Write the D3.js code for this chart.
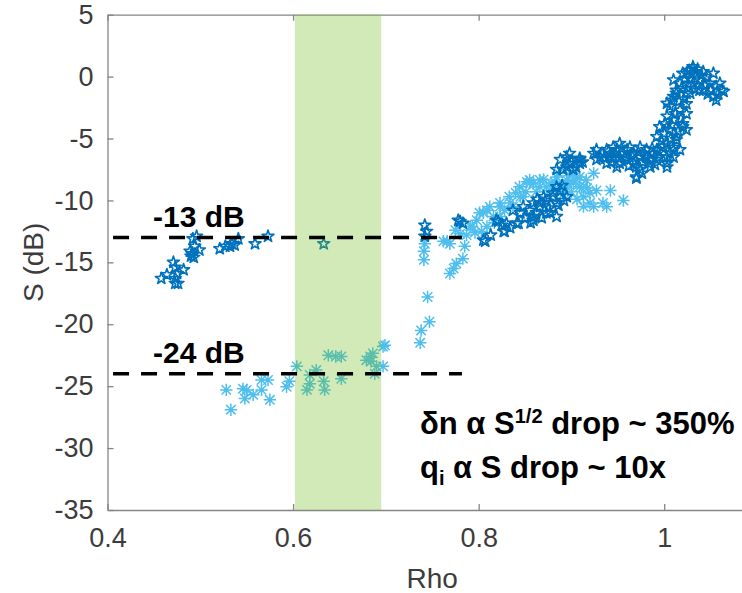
<!DOCTYPE html>
<html>
<head>
<meta charset="utf-8">
<script src="https://cdn.jsdelivr.net/npm/d3@7"></script>
<style>
  html, body { margin: 0; padding: 0; background: #fff; }
  svg { display: block; font-family: "Liberation Sans", Arial, sans-serif; }
</style>
</head>
<body>
<svg id="chart" width="742" height="593"></svg>
<script>
// Axis settings
const xDomain = [0.4, 1.1];
const yDomain = [-35, 5];
const xTicks = [0.4, 0.6, 0.8, 1];
const xTickLabels = ["0.4", "0.6", "0.8", "1"];
const yTicks = [5, 0, -5, -10, -15, -20, -25, -30, -35];
const yTickLabels = ["5", "0", "-5", "-10", "-15", "-20", "-25", "-30", "-35"];

// Highlighted Rho window
const bandRho = [0.602, 0.695];

// Threshold levels (dB) and their labels
const levels = [-13, -24];
const levelLabels = ["-13 dB", "-24 dB"];
const levelRho = [0.406, 0.782];

// S (dB) vs Rho, dark-blue pentagrams: [rho, S]
const starPoints = [
  [0.458,-16.3],[0.464,-16.0],[0.471,-15.0],[0.473,-15.4],[0.473,-16.3],[0.475,-15.9],
  [0.476,-16.7],[0.473,-16.7],[0.482,-15.6],[0.489,-14.1],[0.491,-14.3],[0.493,-14.6],
  [0.494,-13.7],[0.492,-13.1],[0.496,-12.9],[0.499,-14.0],[0.490,-14.5],[0.521,-13.9],
  [0.527,-13.7],[0.532,-13.7],[0.534,-13.5],[0.537,-13.6],[0.541,-13.1],[0.559,-13.5],
  [0.573,-12.9],[0.633,-13.5],
  [0.742,-12.0],[0.744,-12.5],[0.742,-12.9],
  [0.778,-11.6],[0.783,-11.85],[0.780,-11.7],[0.807,-13.3],[0.805,-13.2],[0.821,-11.7],
  [0.828,-12.5],[0.827,-12.5],[0.819,-11.6],[0.837,-10.8],[0.843,-11.85],[0.830,-11.85],
  [0.841,-11.85],[0.845,-11.0],[0.859,-11.6],[0.859,-11.3],[0.855,-10.8],[0.866,-10.2],
  [0.866,-10.5],[0.870,-9.7],[0.873,-11.0],[0.877,-11.0],[0.880,-9.7],[0.880,-9.4],
  [0.884,-8.9],[0.888,-9.2],[0.895,-9.7],[0.884,-10.2],[0.884,-11.3],[0.886,-10.4],
  [0.859,-10.2],[0.850,-11.4],
  [0.848,-10.5],[0.856,-11.8],[0.862,-11.0],[0.868,-11.4],[0.872,-10.0],[0.876,-10.6],
  [0.863,-9.9],[0.834,-12.2],[0.825,-12.0],[0.813,-12.8],[0.892,-10.0],[0.890,-8.8],
  [0.888,-6.7],[0.895,-6.5],[0.909,-6.7],[0.902,-7.5],[0.891,-7.5],[0.895,-7.3],
  [0.884,-7.5],[0.909,-7.0],[0.909,-6.6],[0.900,-6.9],[0.897,-7.0],[0.905,-7.3],
  [0.898,-6.2],[0.912,-6.9],
  [0.924,-6.2],[0.927,-5.9],[0.931,-6.5],[0.927,-6.7],[0.938,-5.9],[0.938,-7.0],
  [0.942,-6.5],[0.945,-5.7],[0.945,-6.5],[0.949,-5.9],[0.949,-7.3],[0.952,-5.4],
  [0.952,-7.0],[0.956,-6.2],[0.960,-5.9],[0.960,-6.7],[0.963,-5.7],[0.967,-7.0],
  [0.967,-6.2],[0.970,-8.1],[0.970,-8.2],[0.970,-7.3],[0.974,-5.7],[0.974,-6.5],
  [0.974,-7.5],[0.977,-6.9],[0.981,-5.9],[0.981,-6.5],[0.985,-7.3],[0.985,-6.7],
  [0.988,-6.2],[0.992,-5.9],[0.992,-6.7],[0.992,-4.85],[0.995,-6.5],[0.995,-4.05],
  [0.999,-5.6],[1.003,-5.4],[1.003,-6.5],[1.003,-7.0],[1.003,-7.3],[1.003,-3.2],
  [0.933,-6.2],[0.936,-6.6],[0.940,-6.0],[0.943,-6.9],[0.947,-6.2],[0.951,-6.6],
  [0.954,-5.8],[0.958,-6.5],[0.962,-7.2],[0.965,-6.4],[0.969,-6.8],[0.972,-6.1],
  [0.976,-7.8],[0.979,-6.3],[0.983,-7.0],[0.987,-5.8],[0.990,-7.1],[0.994,-6.1],
  [0.997,-5.2],[1.000,-4.6],[1.007,-5.0],[1.015,-4.4],[1.018,-3.4],[1.008,-3.9],
  [1.001,-3.8],[1.012,-3.0],[1.016,-2.0],[1.008,-1.9],[1.021,-1.8],[1.019,-0.9],
  [1.006,-4.3],[1.006,-6.2],[1.010,-5.9],[1.010,-6.5],[1.010,-5.7],[1.010,-3.5],
  [1.013,-4.85],[1.013,-5.1],[1.017,-5.9],[1.017,-2.7],[1.020,-3.8],[1.020,-4.05],
  [1.024,-4.3],[1.024,-3.0],[1.024,-2.2],[1.006,-2.4],[1.003,-2.16],[1.010,-1.6],
  [1.013,-1.35],[1.013,-1.1],[1.017,-0.54],[1.010,-0.27],[1.020,0.27],[1.024,-1.35],
  [1.024,0.27],[1.031,0.67],[1.031,0.8],[1.031,-0.54],[1.038,-0.27],[1.038,-1.1],
  [1.042,0.4],[1.042,-1.1],[1.045,0.0],[1.049,-0.54],[1.053,0.27],[1.053,-1.6],
  [1.056,-1.9],[1.056,-0.8],[1.060,-0.54],[1.062,-1.1],[1.064,-1.2],[1.028,-1.35],
  [1.035,0.3],[1.028,-0.2],[1.047,-1.4],[1.026,-0.6],[1.033,-1.0],[1.040,0.1],
  [1.044,-0.7],[1.050,-1.1],[1.058,-1.4],[1.036,0.6],[1.027,0.5],[1.022,-0.2]
];

// S (dB) vs Rho, light-blue asterisks: [rho, S]
const asteriskPoints = [
  [0.528,-25.3],[0.533,-26.9],[0.546,-25.2],[0.550,-25.3],[0.548,-26.0],[0.557,-25.7],
  [0.566,-24.5],[0.573,-24.5],[0.566,-25.3],[0.575,-26.1],[0.593,-25.05],[0.596,-24.6],
  [0.604,-23.4],
  [0.618,-24.1],[0.618,-24.8],[0.615,-25.3],[0.625,-23.7],[0.633,-24.6],[0.634,-25.3],
  [0.638,-22.5],[0.652,-22.6],[0.652,-24.4],[0.679,-22.9],[0.683,-22.6],[0.686,-22.35],
  [0.688,-24.0],[0.690,-23.4],[0.646,-22.6],[0.684,-23.0],
  [0.699,-21.7],[0.697,-21.8],[0.697,-23.4],
  [0.742,-13.5],[0.741,-14.1],[0.741,-14.8],[0.745,-17.8],[0.747,-19.8],[0.738,-20.5],
  [0.737,-21.5],
  [0.762,-13.3],[0.769,-13.5],[0.785,-13.7],[0.783,-14.7],[0.776,-15.1],[0.773,-15.5],
  [0.769,-15.9],[0.775,-12.4],[0.787,-12.8],[0.793,-12.1],[0.801,-11.0],[0.809,-10.8],
  [0.816,-11.3],[0.823,-10.5],[0.834,-10.2],[0.845,-9.7],[0.855,-8.6],[0.866,-8.9],
  [0.780,-12.7],[0.766,-13.3],[0.791,-12.1],[0.798,-11.6],[0.805,-11.0],[0.812,-10.5],
  [0.809,-12.1],[0.823,-11.3],[0.837,-10.5],[0.848,-9.7],[0.823,-10.2],[0.833,-9.7],
  [0.844,-8.9],[0.855,-8.35],[0.866,-8.35],[0.873,-8.9],[0.852,-8.5],[0.859,-8.6],
  [0.884,-8.1],[0.895,-8.35],[0.902,-8.6],[0.902,-7.8],[0.909,-8.1],[0.909,-8.9],
  [0.913,-9.7],[0.916,-8.35],[0.920,-9.4],[0.920,-10.2],[0.924,-7.8],[0.924,-10.5],
  [0.927,-9.2],[0.913,-10.5],[0.934,-10.2],[0.938,-10.5],[0.942,-9.2],[0.956,-10.0],
  [0.893,-9.0],[0.898,-8.0],[0.878,-8.6],
  [0.870,-8.3],[0.877,-9.2],[0.882,-8.5],[0.887,-8.9],[0.891,-9.5],[0.896,-8.7],
  [0.900,-9.3],[0.905,-8.3],[0.906,-9.9],[0.911,-9.0],[0.917,-9.0],[0.886,-7.8],
  [0.862,-9.3],[0.851,-9.3],[0.840,-9.4],[0.828,-10.8],[0.817,-11.8],[0.803,-12.5],
  [0.796,-12.6]
];

const colors = { star: "#0072BD", asterisk: "#4DBEEE", band: "rgb(119,192,40)", axis: "#858585", tickText: "#3c3c3c" };

const svg = d3.select("#chart");
const x = d3.scaleLinear().domain(xDomain).range([107.5, 757]);
const y = d3.scaleLinear().domain(yDomain).range([510, 14.7]);

// Axes box with inward ticks
const axisFont = 27;
const gLeft = svg.append("g").attr("transform", `translate(${x(xDomain[0])},0)`)
  .call(d3.axisLeft(y).tickValues(yTicks).tickSizeInner(-6).tickSizeOuter(0).tickPadding(14)
    .tickFormat((d, i) => yTickLabels[i]));
const gBottom = svg.append("g").attr("transform", `translate(0,${y(yDomain[0])})`)
  .call(d3.axisBottom(x).tickValues(xTicks).tickSizeInner(-6).tickSizeOuter(0).tickPadding(18)
    .tickFormat((d, i) => xTickLabels[i]));
const gTop = svg.append("g").attr("transform", `translate(0,${y(yDomain[1])})`)
  .call(d3.axisTop(x).tickValues(xTicks).tickSizeInner(-6).tickSizeOuter(0).tickFormat(""));
const gRight = svg.append("g").attr("transform", `translate(${x(xDomain[1])},0)`)
  .call(d3.axisRight(y).tickValues(yTicks).tickSizeInner(-6).tickSizeOuter(0).tickFormat(""));

[gLeft, gBottom, gTop, gRight].forEach(g => {
  g.selectAll("path.domain").attr("stroke", colors.axis).attr("stroke-width", 1.3);
  g.selectAll(".tick line").attr("stroke", colors.axis).attr("stroke-width", 1.3);
  g.selectAll(".tick text").attr("fill", colors.tickText)
    .style("font-size", axisFont + "px").style("font-family", "'Liberation Sans', Arial, sans-serif");
});

// Axis titles
svg.append("text")
  .attr("x", (x(xDomain[0]) + x(xDomain[1])) / 2).attr("y", 588)
  .attr("text-anchor", "middle").attr("fill", colors.tickText)
  .style("font-size", "28px").text("Rho");
svg.append("text")
  .attr("transform", `translate(43,${(y(yDomain[0]) + y(yDomain[1])) / 2}) rotate(-90)`)
  .attr("text-anchor", "middle").attr("fill", colors.tickText)
  .style("font-size", "28px").text("S (dB)");

// Markers
const starPath = d3.symbol().type(d3.symbolStar).size(44)();
const asteriskPath = (() => {
  const r = 6.2, d = 4.7;
  return `M${-r},0L${r},0M0,${-r}L0,${r}M${-d},${-d}L${d},${d}M${-d},${d}L${d},${-d}`;
})();

svg.append("g").selectAll("path").data(asteriskPoints).join("path")
  .attr("d", asteriskPath)
  .attr("transform", d => `translate(${x(d[0])},${y(d[1])})`)
  .attr("fill", "none").attr("stroke", colors.asterisk).attr("stroke-width", 1.5);

svg.append("g").selectAll("path").data(starPoints).join("path")
  .attr("d", starPath)
  .attr("transform", d => `translate(${x(d[0])},${y(d[1])})`)
  .attr("fill", "none").attr("stroke", colors.star).attr("stroke-width", 1.6)
  .attr("stroke-linejoin", "round");

// Translucent Rho window over the data
svg.append("rect")
  .attr("x", x(bandRho[0])).attr("width", x(bandRho[1]) - x(bandRho[0]))
  .attr("y", y(yDomain[1])).attr("height", y(yDomain[0]) - y(yDomain[1]))
  .attr("fill", colors.band).attr("fill-opacity", 0.33);

// Threshold dashed lines and labels
svg.append("g").selectAll("line").data(levels).join("line")
  .attr("x1", x(levelRho[0])).attr("x2", x(levelRho[1]))
  .attr("y1", d => y(d)).attr("y2", d => y(d))
  .attr("stroke", "#000").attr("stroke-width", 3.5).attr("stroke-dasharray", "16,12");

svg.append("g").selectAll("text").data(levels).join("text")
  .attr("x", 153).attr("y", d => y(d) - 11)
  .attr("fill", "#000").style("font-size", "30px").style("font-weight", "bold")
  .text((d, i) => levelLabels[i]);

// Annotation
const note = svg.append("text").attr("x", 420).attr("y", 434)
  .attr("fill", "#000").style("font-size", "31px").style("font-weight", "bold");
note.append("tspan").text("\u03B4n \u03B1 S");
note.append("tspan").attr("dy", -11).style("font-size", "20px").text("1/2");
note.append("tspan").attr("dy", 11).text(" drop ~ 350%");

const note2 = svg.append("text").attr("x", 420).attr("y", 478)
  .attr("fill", "#000").style("font-size", "31px").style("font-weight", "bold");
note2.append("tspan").text("q");
note2.append("tspan").attr("dy", 7).style("font-size", "20px").text("i");
note2.append("tspan").attr("dy", -7).text(" \u03B1 S drop ~ 10x");
</script>
</body>
</html>
